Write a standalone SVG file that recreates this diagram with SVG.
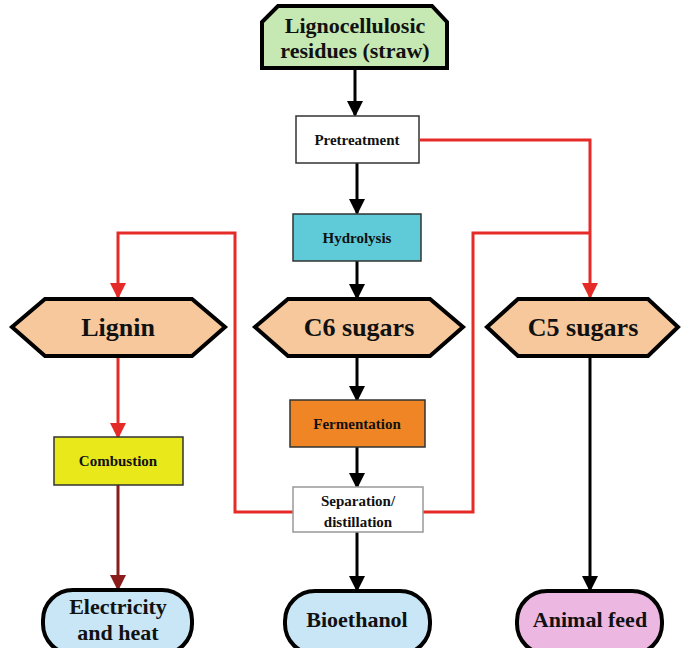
<svg xmlns="http://www.w3.org/2000/svg" width="684" height="648" viewBox="0 0 684 648" font-family="'Liberation Serif', 'Times New Roman', 'DejaVu Serif', serif">
  <defs>
    <marker id="arrowBlack" markerUnits="userSpaceOnUse" markerWidth="16" markerHeight="16" refX="14" refY="8" orient="auto">
      <path d="M0,0 L16,8 L0,16 Z" fill="#000"/>
    </marker>
    <marker id="arrowRed" markerUnits="userSpaceOnUse" markerWidth="16" markerHeight="16" refX="14" refY="8" orient="auto">
      <path d="M0,0 L16,8 L0,16 Z" fill="#e52b27"/>
    </marker>
    <marker id="arrowDark" markerUnits="userSpaceOnUse" markerWidth="16" markerHeight="16" refX="14" refY="8" orient="auto">
      <path d="M0,0 L16,8 L0,16 Z" fill="#8b1c1c"/>
    </marker>
  </defs>
  <style>
    text { font-family: 'Liberation Serif', 'Times New Roman', 'DejaVu Serif', serif; font-weight: bold; fill: #111; text-anchor: middle; }
    .big { font-size: 26px; }
    .mid { font-size: 22px; }
    .small { font-size: 15px; }
    .thick { stroke: #000; stroke-width: 4; }
    .box { stroke: #333; stroke-width: 1.5; }
    .black { fill: none; stroke: #000; stroke-width: 3; marker-end: url(#arrowBlack); }
    .red { fill: none; stroke: #e52b27; stroke-width: 3; }
    .redArrow { marker-end: url(#arrowRed); }
    .dark { fill: none; stroke: #8b1c1c; stroke-width: 3; marker-end: url(#arrowDark); }
  </style>
  <rect width="684" height="648" fill="#fff"/>

  <g id="connectors">
    <line class="black" x1="355" y1="68" x2="355" y2="115"/>
    <line class="black" x1="357" y1="163" x2="357" y2="213"/>
    <line class="black" x1="357" y1="261" x2="357" y2="298"/>
    <line class="black" x1="357" y1="356" x2="357" y2="400"/>
    <line class="black" x1="357" y1="447" x2="357" y2="487"/>
    <line class="black" x1="357" y1="532" x2="357" y2="590"/>
    <line class="black" x1="590" y1="356" x2="590" y2="590"/>
    <path class="red redArrow" d="M420,140 H590 V297"/>
    <path class="red redArrow" d="M293,512 H235 V233 H118 V297"/>
    <path class="red" d="M423,512 H473 V233 H590"/>
    <line class="red redArrow" x1="118" y1="356" x2="118" y2="437"/>
    <line class="dark" x1="118" y1="485" x2="118" y2="589"/>
  </g>

  <g id="straw">
    <path class="thick" d="M262,68 L262,22 L278,6 L432,6 L447,22 L447,68 Z" fill="#c6e8b2"/>
    <text class="mid" x="355" y="33">Lignocellulosic</text>
    <text class="mid" x="355" y="58">residues (straw)</text>
  </g>

  <g id="pretreatment">
    <rect class="box" x="296" y="116" width="123" height="47" fill="#fff"/>
    <text class="small" x="357" y="145">Pretreatment</text>
  </g>

  <g id="hydrolysis">
    <rect class="box" x="293" y="214" width="128" height="47" fill="#5fcad8"/>
    <text class="small" x="357" y="243">Hydrolysis</text>
  </g>

  <g id="lignin">
    <path class="thick" d="M12,327 L45,299 L192,299 L225,327 L192,356 L45,356 Z" fill="#f6c89c"/>
    <text class="big" x="118" y="336">Lignin</text>
  </g>

  <g id="c6">
    <path class="thick" d="M255,327 L288,299 L430,299 L463,327 L430,356 L288,356 Z" fill="#f6c89c"/>
    <text class="big" x="359" y="336">C6 sugars</text>
  </g>

  <g id="c5">
    <path class="thick" d="M487,327 L518,299 L648,299 L678,327 L648,356 L518,356 Z" fill="#f6c89c"/>
    <text class="big" x="583" y="336">C5 sugars</text>
  </g>

  <g id="combustion">
    <rect class="box" x="54" y="437" width="129" height="48" fill="#e8e81a"/>
    <text class="small" x="118" y="466">Combustion</text>
  </g>

  <g id="fermentation">
    <rect class="box" x="290" y="400" width="135" height="47" fill="#f08526"/>
    <text class="small" x="357" y="429">Fermentation</text>
  </g>

  <g id="separation">
    <rect x="293" y="487" width="130" height="45" fill="#fff" stroke="#999" stroke-width="1.5"/>
    <text class="small" x="358" y="506">Separation/</text>
    <text class="small" x="358" y="527">distillation</text>
  </g>

  <g id="electricity">
    <rect class="thick" x="43" y="590" width="149" height="64" rx="30" fill="#c8e6f6"/>
    <text class="mid" x="118" y="614">Electricity</text>
    <text class="mid" x="118" y="640">and heat</text>
  </g>

  <g id="bioethanol">
    <rect class="thick" x="285" y="591" width="145" height="63" rx="30" fill="#c8e6f6"/>
    <text class="mid" x="357" y="627">Bioethanol</text>
  </g>

  <g id="animalfeed">
    <rect class="thick" x="517" y="591" width="145" height="63" rx="30" fill="#ecb8e2"/>
    <text class="mid" x="590" y="627">Animal feed</text>
  </g>
</svg>
